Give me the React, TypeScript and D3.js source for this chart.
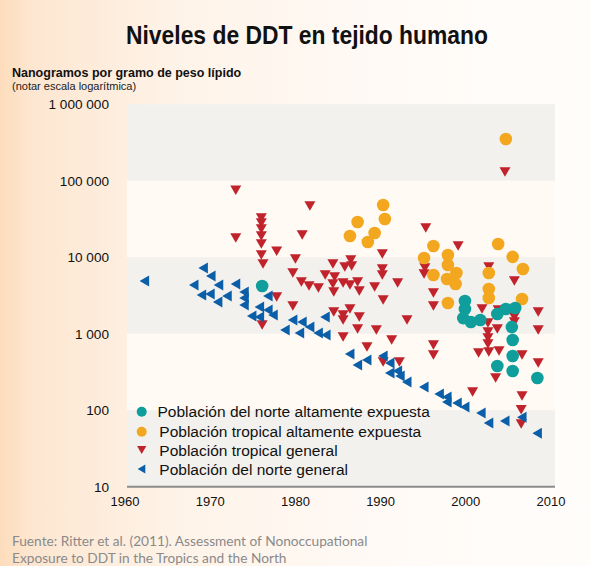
import React from 'react';
import * as d3 from 'd3';

const W = 591;
const H = 566;

const xTicks = [1960, 1970, 1980, 1990, 2000, 2010];
const yTicks = [10, 100, 1000, 10000, 100000, 1000000];
const yTickLabels = ['10', '100', '1 000', '10 000', '100 000', '1 000 000'];
const grayBands: [number, number][] = [[100000, 1000000], [1000, 10000], [10, 100]];

// Población del norte altamente expuesta [year, ng/g]
const northHigh: [number, number][] = [
  [1976.1, 4200], [1999.9, 2680], [1999.9, 2100], [1999.7, 1600], [2000.6, 1420],
  [2001.7, 1510], [2003.7, 1810], [2004.7, 2100], [2005.8, 2170], [2005.4, 1220],
  [2005.5, 828], [2005.5, 511], [2003.7, 378], [2005.5, 325], [2008.4, 264],
];

// Población tropical altamente expuesta
const tropicalHigh: [number, number][] = [
  [1990.3, 48100], [1990.5, 31600], [1987.3, 28800], [1986.4, 18900], [1988.5, 15800],
  [1989.3, 20700], [1996.2, 14000], [1995.1, 9770], [1997.9, 10700], [1997.9, 7910],
  [1996.2, 5850], [1997.8, 5190], [1998.9, 6220], [1998.8, 4460], [1997.9, 2520],
  [2004.7, 351000], [2003.8, 14900], [2005.5, 10100], [2006.7, 7010], [2002.7, 6220],
  [2002.7, 3840], [2002.7, 2930], [2006.6, 2840],
];

// Población tropical general
const tropicalGeneral: [number, number][] = [
  [1973.0, 75000], [1973.0, 17800], [1981.7, 46700], [1976.0, 32500], [1976.0, 28000],
  [1976.0, 23400], [1976.0, 18900], [1976.0, 14900], [1976.0, 10700], [1976.2, 8150],
  [1977.8, 12000], [1980.8, 19500], [1980.0, 9460], [1979.7, 6220], [1980.7, 4740],
  [1981.6, 4200], [1982.7, 3960], [1977.8, 3020], [1979.7, 2300], [1976.1, 1300],
  [1983.5, 5850], [1984.4, 8150], [1984.6, 5510], [1984.4, 4460], [1984.5, 3510],
  [1985.6, 4600], [1985.8, 7450], [1986.5, 9190], [1986.6, 7670], [1986.4, 4330],
  [1987.3, 4740], [1987.5, 3610], [1989.3, 4080], [1990.2, 11000], [1990.2, 7010],
  [1990.2, 5850], [1990.3, 2760], [1992.0, 4600], [1984.5, 1920], [1985.6, 1750],
  [1986.4, 2100], [1985.6, 1510], [1987.5, 1650], [1987.3, 1150], [1989.5, 1120],
  [1985.6, 906], [1988.4, 670], [1991.3, 828], [1993.1, 1510], [1990.3, 427],
  [1992.2, 427],
  [1995.3, 24100], [1999.1, 14000], [1995.2, 7230], [1995.1, 6030], [1996.2, 3400],
  [1996.2, 2300], [1996.2, 711], [1996.2, 527], [2002.7, 7450], [2005.7, 4890],
  [2001.9, 2100], [2003.8, 2040], [2003.7, 1150], [2005.7, 1650], [2005.7, 1420],
  [2002.6, 1380], [2002.6, 1050], [2002.6, 879], [2002.6, 733], [2001.5, 560],
  [2002.7, 577], [2003.9, 594], [2006.6, 527], [2008.5, 1920], [2008.5, 1120],
  [2008.5, 414], [2003.5, 264], [2000.8, 173], [2006.6, 153], [2006.5, 101],
  [2006.5, 66], [2004.6, 130000],
];

// Población del norte general
const northGeneral: [number, number][] = [
  [1962.3, 4900], [1969.2, 7200], [1970.1, 5680], [1968.1, 4330], [1971.0, 4330],
  [1973.0, 4460], [1969.0, 3210], [1970.0, 3300], [1972.0, 3110], [1970.9, 2600],
  [1974.0, 3510], [1974.0, 2930], [1974.0, 2370], [1976.8, 3110], [1975.8, 2230],
  [1976.8, 2040], [1974.9, 1700], [1975.8, 1650], [1977.4, 1750], [1978.8, 1120],
  [1979.7, 1510], [1980.8, 1420], [1980.5, 1020], [1981.7, 1220], [1982.7, 1020],
  [1983.6, 960], [1983.5, 1650], [1986.4, 543], [1987.3, 390], [1988.4, 453],
  [1990.3, 511], [1991.1, 414], [1991.1, 306], [1992.0, 325], [1992.3, 280],
  [1993.1, 234], [1995.1, 201], [1996.9, 163], [1997.8, 149], [1997.8, 128],
  [1999.0, 124], [1999.9, 110], [2001.8, 92], [2002.7, 68], [2004.6, 72],
  [2006.6, 81], [2008.4, 50],
];

const legendLabels = [
  'Población del norte altamente expuesta',
  'Población tropical altamente expuesta',
  'Población tropical general',
  'Población del norte general',
];

const TEAL = '#0f9e9c';
const ORANGE = '#f2a71f';
const RED = '#c0232b';
const BLUE = '#0b5ea8';

const downTri = (s: number) => `M${-s * 0.58},${-s * 0.5}L${s * 0.58},${-s * 0.5}L0,${s * 0.5}Z`;
const leftTri = (s: number) => `M${-s * 0.5},0L${s * 0.45},${-s * 0.55}L${s * 0.45},${s * 0.55}Z`;

export default function App() {
  const x = d3.scaleLinear().domain([1960, 2010]).range([125, 551]);
  const y = d3.scaleLog().domain([10, 1000000]).range([486.7, 104.2]);
  const plotL = 127;
  const plotR = 555;
  const font = "'Liberation Sans', Arial, sans-serif";

  return (
    <svg width={W} height={H} style={{ position: 'absolute', left: 0, top: 0, display: 'block' }}
      fontFamily={font}>
      <defs>
        <linearGradient id="bg" x1="0" x2="1" y1="0" y2="0">
          <stop offset="0" stopColor="#fddcbb" />
          <stop offset="0.05" stopColor="#fde6d0" />
          <stop offset="0.3" stopColor="#fef3e8" />
          <stop offset="0.65" stopColor="#fffaf6" />
          <stop offset="1" stopColor="#fffdfb" />
        </linearGradient>
      </defs>
      <rect x={0} y={0} width={W} height={H} fill="url(#bg)" />
      <rect x={plotL} y={y(1000000)} width={plotR - plotL} height={y(10) - y(1000000)} fill="#fffaf4" />
      {grayBands.map(([lo, hi], i) => (
        <rect key={i} x={plotL} y={y(hi)} width={plotR - plotL} height={y(lo) - y(hi)} fill="#f3f1ee" />
      ))}

      <text x={307} y={44} textAnchor="middle" fontSize={26} fontWeight={700} fill="#111"
        textLength={362} lengthAdjust="spacingAndGlyphs">Niveles de DDT en tejido humano</text>
      <text x={12} y={77} fontSize={12.5} fontWeight={700} fill="#111">Nanogramos por gramo de peso lípido</text>
      <text x={12} y={90} fontSize={11} fill="#222">(notar escala logarítmica)</text>

      {yTicks.map((t, i) => (
        <text key={t} x={109} y={y(t)} dy="0.36em" textAnchor="end" fontSize={13.6} fill="#111">{yTickLabels[i]}</text>
      ))}
      {xTicks.map((t) => (
        <text key={t} x={x(t)} y={506} textAnchor="middle" fontSize={13} fill="#111">{t}</text>
      ))}
      <line x1={plotL} x2={plotR} y1={y(10)} y2={y(10)} stroke="#8c8c8c" strokeWidth={2} />

      {tropicalGeneral.map(([a, b], i) => (
        <path key={'r' + i} d={downTri(9.5)} transform={`translate(${x(a)},${y(b)})`} fill={RED} />
      ))}
      {northGeneral.map(([a, b], i) => (
        <path key={'b' + i} d={leftTri(10)} transform={`translate(${x(a)},${y(b)})`} fill={BLUE} />
      ))}
      {tropicalHigh.map(([a, b], i) => (
        <circle key={'o' + i} cx={x(a)} cy={y(b)} r={6.3} fill={ORANGE} />
      ))}
      {northHigh.map(([a, b], i) => (
        <circle key={'t' + i} cx={x(a)} cy={y(b)} r={6.3} fill={TEAL} />
      ))}

      {legendLabels.map((lab, i) => {
        const ly = [411.7, 431.7, 450, 469][i];
        return (
          <g key={lab}>
            {i === 0 && <circle cx={141.7} cy={ly} r={5} fill={TEAL} />}
            {i === 1 && <circle cx={141.7} cy={ly} r={5} fill={ORANGE} />}
            {i === 2 && <path d={downTri(8)} transform={`translate(141.7,${ly})`} fill={RED} />}
            {i === 3 && <path d={leftTri(8)} transform={`translate(141.7,${ly})`} fill={BLUE} />}
            <text x={i === 0 ? 157.5 : 159.3} y={ly} dy="0.36em" fontSize={15.5} fill="#111">{lab}</text>
          </g>
        );
      })}

      <text x={12} y={546} fontSize={13.7} fill="#8a8a8a" fontFamily="Lato, sans-serif">Fuente: Ritter et al. (2011). Assessment of Nonoccupational</text>
      <text x={12} y={563} fontSize={13.7} fill="#8a8a8a" fontFamily="Lato, sans-serif">Exposure to DDT in the Tropics and the North</text>
    </svg>
  );
}
